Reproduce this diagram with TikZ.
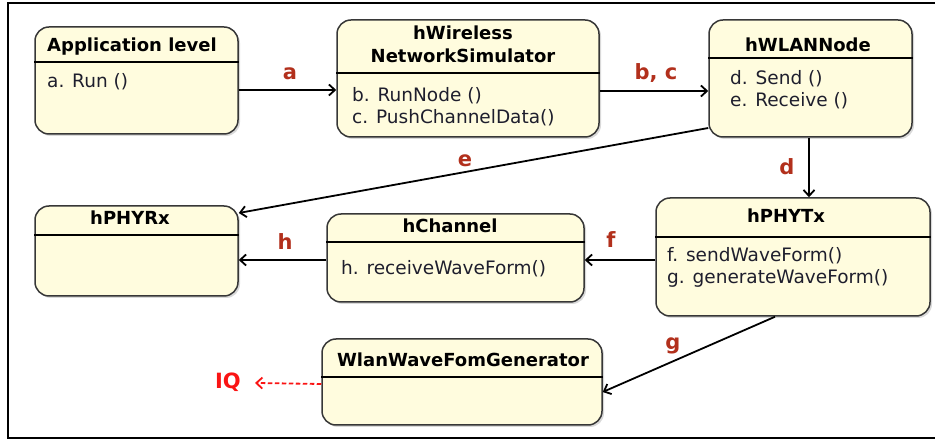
\documentclass[tikz,border=0pt]{standalone}
\usepackage{fontspec}
\setmainfont{DejaVu Sans}
\usepackage{xcolor}
\usepackage{tikz}
\usetikzlibrary{arrows.meta,shadows}
\definecolor{boxfill}{RGB}{255,252,222}
\definecolor{boxline}{RGB}{55,55,55}
\definecolor{lblred}{RGB}{178,48,28}
\definecolor{iqred}{RGB}{250,20,20}
\definecolor{methcol}{RGB}{30,30,45}

\begin{document}
\begin{tikzpicture}[x=1pt,y=-1pt,
		umlbox/.style={draw=boxline, line width=1.5pt, fill=boxfill, rounded corners=14pt, inner sep=0pt,
			drop shadow={shadow xshift=2pt, shadow yshift=-2pt, opacity=0.3}},
		divider/.style={line width=1.8pt},
		headtext/.style={font=\fontsize{18}{21}\selectfont\bfseries, inner sep=0pt, anchor=base},
		methtext/.style={font=\fontsize{18.5}{22}\selectfont, text=methcol, inner sep=0pt, anchor=base west},
		lbl/.style={font=\fontsize{21}{24}\selectfont\bfseries, text=lblred, inner sep=0pt, anchor=base},
		flow/.style={line width=1.8pt, -{Straight Barb[length=6pt,width=11pt]}},
		iqflow/.style={flow, draw=iqred, dash pattern=on 4.5pt off 2.5pt}]
		\useasboundingbox (0,0) rectangle (935,443);
		\draw[line width=1.8pt] (935,3) -- (8,3) -- (8,438) -- (935,438);
		
		\node[umlbox, minimum width=203pt, minimum height=107pt] (app) at (136.5,80.5) {};
		\node[umlbox, minimum width=262pt, minimum height=117pt] (sim) at (468,78.5) {};
		\node[umlbox, minimum width=203pt, minimum height=117pt] (wlan) at (810.5,78.5) {};
		\node[umlbox, minimum width=203pt, minimum height=90pt] (rx) at (136.5,251) {};
		\node[umlbox, minimum width=257pt, minimum height=88pt] (chan) at (455.5,258) {};
		\node[umlbox, minimum width=274pt, minimum height=118pt] (tx) at (793,257) {};
		\node[umlbox, minimum width=280pt, minimum height=86pt] (gen) at (462,382) {};
		
		\draw[divider] (app.west |- 0,62) -- (app.east |- 0,62);
		\draw[divider] (sim.west |- 0,73) -- (sim.east |- 0,73);
		\draw[divider] (wlan.west |- 0,58) -- (wlan.east |- 0,58);
		\draw[divider] (rx.west |- 0,235) -- (rx.east |- 0,235);
		\draw[divider] (chan.west |- 0,242) -- (chan.east |- 0,242);
		\draw[divider] (tx.west |- 0,237) -- (tx.east |- 0,237);
		\draw[divider] (gen.west |- 0,377) -- (gen.east |- 0,377);
		
		\node[headtext] (apphead) at (132,52) {Application level};
		\node[headtext] (simhead) at (463,40) {hWireless};
		\node[headtext] (simhead2) at (463,63) {NetworkSimulator};
		\node[headtext] (wlanhead) at (808,52) {hWLANNode};
		\node[headtext] (rxhead) at (130,225) {hPHYRx};
		\node[headtext] (chanhead) at (450,233) {hChannel};
		\node[headtext] (txhead) at (786,223) {hPHYTx};
		\node[headtext] (genhead) at (463,367) {WlanWaveFomGenerator};
		
		\node[methtext] (run) at (47,88) {a. Run  ()};
		\node[methtext] (runnode) at (352,102) {b. RunNode  ()};
		\node[methtext] (push) at (352,124) {c. PushChannelData()};
		\node[methtext] (send) at (730,85) {d. Send  ()};
		\node[methtext] (recv) at (730,107) {e. Receive  ()};
		\node[methtext] (recvwave) at (341,275) {h. receiveWaveForm()};
		\node[methtext] (sendwave) at (667,262) {f. sendWaveForm()};
		\node[methtext] (genwave) at (667,284) {g. generateWaveForm()};
		
		\node[lbl] (la) at (290,80) {a};
		\node[lbl] (lbc) at (656,80) {b, c};
		\node[lbl] (ld) at (787,175) {d};
		\node[lbl] (le) at (465,167) {e};
		\node[lbl] (lf) at (611,248) {f};
		\node[lbl] (lh) at (285,250) {h};
		\node[lbl] (lg) at (673,350) {g};
		\node[lbl, text=iqred, anchor=base east] (iq) at (241,389) {IQ};
		
		\draw[flow] ([yshift=-9.5pt]app.east) -- ([yshift=-9.5pt]app.east -| sim.west);
		\draw[flow] ([yshift=-12.5pt]sim.east) -- ([yshift=-12.5pt]sim.east -| wlan.west);
		\draw[flow] ([xshift=-1.5pt]wlan.south) -- ([xshift=-1.5pt]wlan.south |- tx.north);
		\draw[flow] ([yshift=-49.5pt]wlan.west) -- ([yshift=38pt]rx.east);
		\draw[flow] ([yshift=-3pt]tx.west) -- ([yshift=-3pt]tx.west -| chan.east);
		\draw[flow] ([yshift=-2pt]chan.west) -- ([yshift=-2pt]chan.west -| rx.east);
		\draw[flow] ([xshift=-18pt]tx.south) -- ([yshift=-10pt]gen.east);
		\draw[iqflow, shorten >=14pt] ([yshift=-2pt]gen.west) -- (iq.east);
	\end{tikzpicture}
\end{document}
